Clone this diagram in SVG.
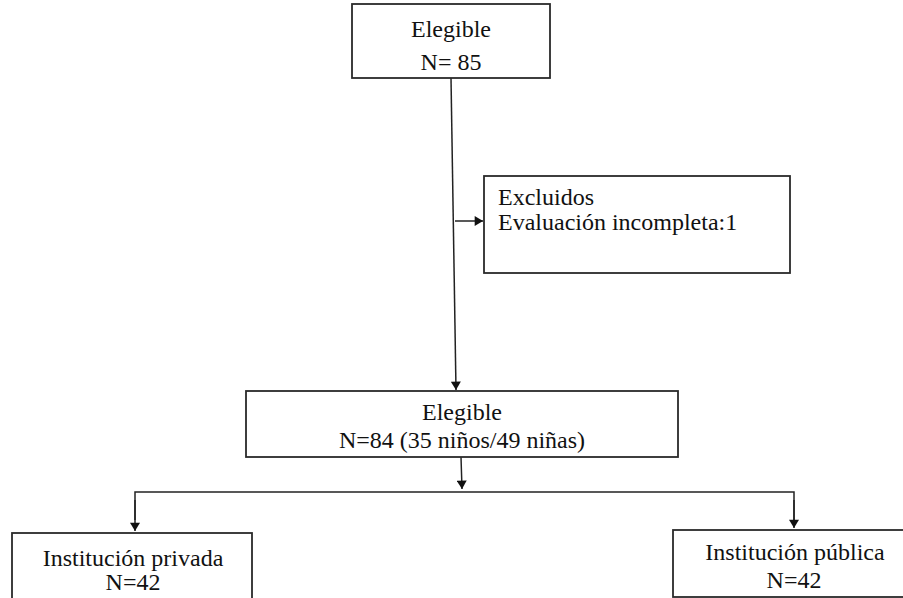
<svg xmlns="http://www.w3.org/2000/svg" width="903" height="598" viewBox="0 0 903 598">
<style>
.box{fill:#fff;stroke:#2a2a2a;stroke-width:1.8}
.t{font-family:"Liberation Serif","Times New Roman",serif;font-size:24px;fill:#111}
.c{text-anchor:middle}
.ln{fill:none;stroke:#222;stroke-width:1.5}
</style>
<defs>
<marker id="ah" viewBox="0 0 10 12" refX="10" refY="6" markerWidth="12" markerHeight="10" markerUnits="userSpaceOnUse" orient="auto">
<path d="M0,0 L10,6 L0,12 z" fill="#111"/>
</marker>
</defs>
<rect width="903" height="598" fill="#fff"/>
<g id="connectors">
<path class="ln" d="M451,78 L456,390" marker-end="url(#ah)"/>
<path class="ln" d="M455,221 L483,221" marker-end="url(#ah)"/>
<path class="ln" d="M461,457 L462,489" marker-end="url(#ah)"/>
<path class="ln" d="M135,520 L135,492 L794,492 L794,520"/>
<path class="ln" d="M135,500 L135,531" marker-end="url(#ah)"/>
<path class="ln" d="M794,500 L794,528" marker-end="url(#ah)"/>
</g>
<g id="n1">
<rect class="box" x="352" y="4" width="198" height="74"/>
<text class="t c" x="451" y="37">Elegible</text>
<text class="t c" x="451" y="70">N= 85</text>
</g>
<g id="n2">
<rect class="box" x="484" y="176" width="306" height="97"/>
<text class="t" x="498" y="205">Excluidos</text>
<text class="t" x="498" y="230">Evaluación incompleta:1</text>
</g>
<g id="n3">
<rect class="box" x="246" y="391" width="432" height="66"/>
<text class="t c" x="462" y="420">Elegible</text>
<text class="t c" x="462" y="448">N=84 (35 niños/49 niñas)</text>
</g>
<g id="n4">
<rect class="box" x="12" y="533" width="240" height="80"/>
<text class="t c" x="133" y="566">Institución privada</text>
<text class="t c" x="133" y="590">N=42</text>
</g>
<g id="n5">
<rect class="box" x="673" y="530" width="244" height="67"/>
<text class="t c" x="795" y="560">Institución pública</text>
<text class="t c" x="794" y="588">N=42</text>
</g>
</svg>
